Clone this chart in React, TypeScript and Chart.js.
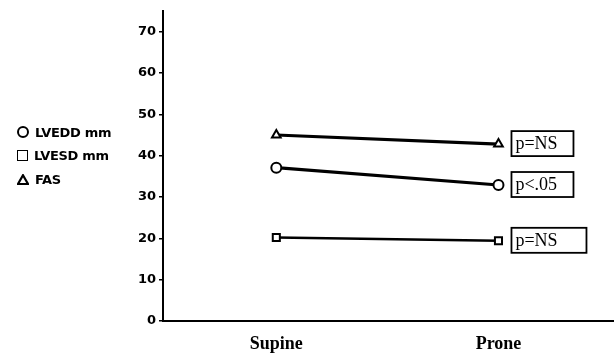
import React, { useEffect, useRef } from "react";
import { Chart, registerables } from "chart.js";

Chart.register(...registerables);

// ---- Data ----
const categories = ["Supine", "Prone"];
const seriesNames = ["LVEDD mm", "LVESD mm", "FAS"];
const lvedd = [37.1, 32.9];
const lvesd = [20.2, 19.4];
const fas = [45.0, 42.8];
const pLabels = ["p<.05", "p=NS", "p=NS"];
const yTicks = [0, 10, 20, 30, 40, 50, 60, 70];

// ---- Styles (not data) ----
const pointStyles = ["circle", "rect", "triangle"];
const lineWidths = [3.2, 2.6, 3.2];
const boxWidths = [62, 75, 62];

const W = 614;
const H = 354;

// Stretch the plot area to the right edge of the canvas (as in the reference)
const fullRightPlugin = {
  id: "fullRight",
  afterLayout(chart: any) {
    const x = chart.scales.x;
    const a = chart.chartArea;
    a.right = chart.width;
    a.width = a.right - a.left;
    x.right = chart.width;
    x.width = x.right - x.left;
    x.configure();
  },
};

const pBoxPlugin = {
  id: "pBoxes",
  afterDatasetsDraw(chart: any) {
    const ctx = chart.ctx;
    const xs = chart.scales.x;
    const ys = chart.scales.y;
    const series = [lvedd, lvesd, fas];
    ctx.save();
    ctx.font = '18px "Liberation Serif"';
    ctx.textBaseline = "middle";
    ctx.textAlign = "left";
    ctx.strokeStyle = "#000";
    ctx.fillStyle = "#000";
    ctx.lineWidth = 1.8;
    series.forEach((s, i) => {
      const px = xs.getPixelForValue(1);
      const py = ys.getPixelForValue(s[1]);
      const left = px + 13;
      const top = py - 13;
      ctx.strokeRect(left, top, boxWidths[i], 25);
      ctx.fillText(pLabels[i], left + 4, top + 13);
    });
    ctx.restore();
  },
};

export default function App() {
  const ref = useRef<HTMLCanvasElement | null>(null);

  useEffect(() => {
    if (!ref.current) return;
    const mk = (i: number, data: number[]) => ({
      label: seriesNames[i],
      data: data.map((v, j) => ({ x: j, y: v })),
      borderColor: "#000",
      borderWidth: lineWidths[i],
      backgroundColor: "#fff",
      pointStyle: pointStyles[i],
      pointRadius: 5,
      pointBorderWidth: 2,
      pointBorderColor: "#000",
      pointBackgroundColor: "#fff",
      tension: 0,
      fill: false,
      clip: false,
    });
    const chart = new Chart(ref.current, {
      type: "line",
      data: {
        datasets: [mk(0, lvedd), mk(1, lvesd), mk(2, fas)],
      },
      options: {
        animation: false,
        responsive: false,
        layout: { padding: { top: 11, right: 0, bottom: 0, left: 0 } },
        plugins: { legend: { display: false }, tooltip: { enabled: false } },
        scales: {
          x: {
            type: "linear",
            min: -0.51,
            max: 1.52,
            afterBuildTicks: (s: any) => {
              s.ticks = categories.map((_, i) => ({ value: i }));
            },
            afterFit: (s: any) => {
              s.height = 33;
            },
            ticks: {
              callback: (v: any) => categories[v as number] ?? "",
              font: { family: '"Liberation Serif"', size: 18, weight: "bold" },
              color: "#000",
              padding: 13,
              maxRotation: 0,
              autoSkip: false,
            },
            grid: { display: false, drawTicks: false },
            border: { display: true, color: "#000", width: 2 },
          },
          y: {
            min: 0,
            max: 75,
            afterBuildTicks: (s: any) => {
              s.ticks = yTicks.map((v) => ({ value: v }));
            },
            afterFit: (s: any) => {
              s.width = 163;
            },
            ticks: {
              font: { family: '"DejaVu Sans"', size: 13, weight: "bold" },
              color: "#000",
              padding: 3,
            },
            grid: {
              drawOnChartArea: false,
              drawTicks: true,
              tickLength: 4,
              color: "#000",
              lineWidth: 1.5,
            },
            border: { display: true, color: "#000", width: 2 },
          },
        },
      },
      plugins: [fullRightPlugin, pBoxPlugin],
    });
    return () => chart.destroy();
  }, []);

  const legendRows = [132, 155, 179];
  const sym = (i: number) => {
    if (i === 0)
      return (
        <span style={{ display: "inline-block", width: 8, height: 8, border: "2px solid #000", borderRadius: "50%", boxSizing: "content-box" }} />
      );
    if (i === 1)
      return <span style={{ display: "inline-block", width: 9, height: 9, border: "1.6px solid #000" }} />;
    return (
      <svg width="12" height="11" viewBox="0 0 12 11">
        <polygon points="6,1.2 11,10 1,10" fill="none" stroke="#000" strokeWidth="2.2" />
      </svg>
    );
  };

  return (
    <div style={{ position: "fixed", left: 0, top: 0, width: W, height: H, background: "#fff" }}>
      <canvas ref={ref} width={W} height={H} style={{ display: "block" }} />
      {seriesNames.map((n, i) => (
        <div
          key={n}
          style={{
            position: "absolute",
            left: 17,
            top: legendRows[i] - 9,
            height: 18,
            display: "flex",
            alignItems: "center",
            gap: 6,
            font: 'bold 13px "DejaVu Sans"',
            color: "#000",
            whiteSpace: "nowrap",
            letterSpacing: "-0.3px",
          }}
        >
          {sym(i)}
          <span>{n}</span>
        </div>
      ))}
    </div>
  );
}
